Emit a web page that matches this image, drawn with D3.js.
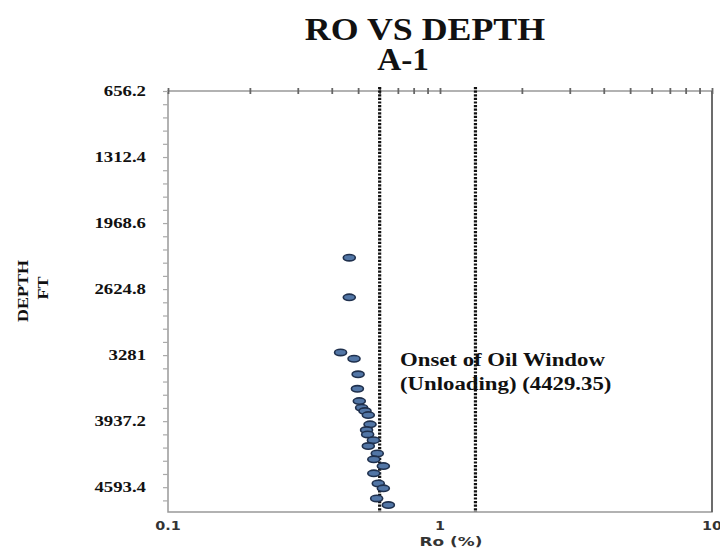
<!DOCTYPE html>
<head>
  <meta charset="utf-8" />
  <script src="https://cdn.jsdelivr.net/npm/d3@7"></script>
  <style>
    body {
      background-color: #fff;
      margin: 0;
    }
    .serif {
      font-family: "Liberation Serif", "Times New Roman", serif;
      font-weight: bold;
      fill: #111;
    }
    .sans {
      font-family: "DejaVu Sans", Verdana, sans-serif;
      font-weight: bold;
      fill: #333;
    }
  </style>
</head>

<body>
  <script>
    // Ro (%) readings and depth (ft)
    var roValues = [0.464, 0.464, 0.431, 0.483, 0.5, 0.497, 0.505, 0.515, 0.53, 0.545, 0.553, 0.537,
      0.542, 0.569, 0.545, 0.588, 0.571, 0.619, 0.571, 0.593, 0.619, 0.585, 0.646];
    var depthValues = [2313, 2707, 3254, 3317, 3472, 3616, 3738, 3804, 3837, 3877, 3969, 4026,
      4069, 4126, 4185, 4258, 4317, 4384, 4456, 4556, 4605, 4705, 4771];
    var depthTicks = [656.2, 1312.4, 1968.6, 2624.8, 3281, 3937.2, 4593.4];
    var depthLabels = ["656.2", "1312.4", "1968.6", "2624.8", "3281", "3937.2", "4593.4"];
    var roTicks = [0.1, 1, 10];
    var roLabels = ["0.1", "1", "10"];
    var windowLines = [0.6, 1.35];
    var noteLines = ["Onset of Oil Window", "(Unloading) (4429.35)"];

    var width = 720, height = 549;
    var plot = { left: 168, right: 712, top: 91, bottom: 512 };

    var svg = d3.select("body").append("svg")
      .attr("width", width)
      .attr("height", height);

    var x = d3.scaleLog().domain([0.1, 10]).range([plot.left, plot.right]);
    var y = d3.scaleLinear().domain([656.2, 4840]).range([plot.top, plot.bottom]);

    // text that is a bit stretched sideways like the scan
    function label(cls, size, tx, ty, txt, anchor, sx, rot) {
      return svg.append("text")
        .attr("class", cls)
        .attr("font-size", size)
        .attr("text-anchor", anchor)
        .attr("transform", "translate(" + tx + "," + ty + ")" + (rot ? " rotate(" + rot + ")" : "") + " scale(" + sx + ",1)")
        .text(txt);
    }

    // frame
    svg.append("rect")
      .attr("x", plot.left).attr("y", plot.top)
      .attr("width", plot.right - plot.left).attr("height", plot.bottom - plot.top)
      .attr("fill", "none").attr("stroke", "#999").attr("stroke-width", 1.5);
    svg.append("line")
      .attr("x1", plot.right).attr("x2", plot.right)
      .attr("y1", plot.top).attr("y2", plot.bottom)
      .attr("stroke", "#555").attr("stroke-width", 1.5);

    // top axis with log minor ticks, crossing both ways
    var logTicks = x.ticks();
    [d3.axisTop, d3.axisBottom].forEach(function (ax) {
      svg.append("g")
        .attr("transform", "translate(0," + plot.top + ")")
        .call(ax(x).tickValues(logTicks).tickSize(3).tickFormat(""))
        .call(function (g) {
          g.select(".domain").remove();
          g.selectAll("line").attr("stroke", "#666").attr("stroke-width", 1.8);
        });
    });

    // left axis minor ticks
    var minorDepth = d3.range(656.2, 4840, 131.24);
    svg.append("g")
      .attr("transform", "translate(" + plot.left + ",0)")
      .call(d3.axisLeft(y).tickValues(minorDepth).tickSize(5).tickFormat(""))
      .call(function (g) {
        g.select(".domain").remove();
        g.selectAll("line").attr("stroke", "#aaa").attr("stroke-width", 1.2);
      });

    depthTicks.forEach(function (d, i) {
      label("serif", 15, 146, y(d) + 5, depthLabels[i], "end", 1.25);
    });

    roTicks.forEach(function (d, i) {
      label("sans", 12, x(d), plot.bottom + 18, roLabels[i], "middle", 1.2);
    });
    label("sans", 13, (plot.left + plot.right) / 2 + 11, 546, "Ro (%)", "middle", 1.3);

    // axis title
    label("serif", 15, 28, 291, "DEPTH", "middle", 1.2, -90);
    label("serif", 15, 48, 288, "FT", "middle", 1.2, -90);

    // chart title
    label("serif", 32, 425, 40, "RO VS DEPTH", "middle", 1.12);
    label("serif", 32, 403, 70, "A-1", "middle", 1.04);

    // oil window lines
    svg.selectAll(".win")
      .data(windowLines)
      .enter()
      .append("line")
      .attr("class", "win")
      .attr("x1", function (d) { return x(d); })
      .attr("x2", function (d) { return x(d); })
      .attr("y1", plot.top - 4)
      .attr("y2", plot.bottom)
      .attr("stroke", "#111")
      .attr("stroke-width", 3.2)
      .attr("stroke-dasharray", "2.2,1.4");

    // points
    svg.selectAll(".pt")
      .data(roValues)
      .enter()
      .append("ellipse")
      .attr("class", "pt")
      .attr("cx", function (d) { return x(d); })
      .attr("cy", function (d, i) { return y(depthValues[i]); })
      .attr("rx", 6)
      .attr("ry", 3.2)
      .attr("fill", "#5276a6")
      .attr("stroke", "#1f304d")
      .attr("stroke-width", 1.6);

    noteLines.forEach(function (t, i) {
      label("serif", 19, 400, 366 + i * 24, t, "start", 1.2);
    });
  </script>
</body>
